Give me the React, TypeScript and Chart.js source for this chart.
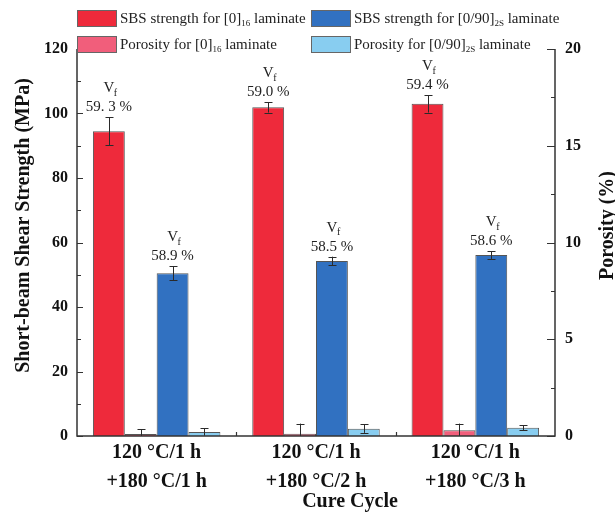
import { useEffect, useRef } from 'react';
import { Chart, registerables } from 'chart.js';

Chart.register(...registerables);

// ---------- data ----------
const categories: string[][] = [
  ['120 °C/1 h', '+180 °C/1 h'],
  ['120 °C/1 h', '+180 °C/2 h'],
  ['120 °C/1 h', '+180 °C/3 h'],
];
const sbs0 = [94.5, 101.9, 103.0];
const sbs0Err = [4.3, 1.6, 2.7];
const sbs090 = [50.5, 54.3, 56.1];
const sbs090Err = [2.2, 1.3, 1.2];
const por0 = [0.1, 0.12, 0.3];
const por0Err = [0.24, 0.52, 0.34];
const por090 = [0.21, 0.38, 0.43];
const por090Err = [0.2, 0.22, 0.13];
const vf0Labels = ['59. 3 %', '59.0 %', '59.4 %'];
const vf090Labels = ['58.9 %', '58.5 %', '58.6 %'];
const legendLabels = [
  'SBS strength for [0]{16} laminate',
  'SBS strength for [0/90]{2S} laminate',
  'Porosity for [0]{16} laminate',
  'Porosity for [0/90]{2S} laminate',
];
const leftTitle = 'Short-beam Shear Strength (MPa)';
const rightTitle = 'Porosity (%)';
const xTitle = 'Cure Cycle';

const RED = '#EE2A3B';
const PINK = '#F15E7B';
const BLUE = '#3171C1';
const LBLUE = '#88CDF0';
const FONT = "'Liberation Serif', 'Times New Roman', serif";

function drawRich(ctx: CanvasRenderingContext2D, text: string, x: number, y: number, size: number) {
  // parts in {} are subscripts
  const parts = text.split(/(\{[^}]*\})/).filter((p) => p.length);
  let cx = x;
  ctx.textAlign = 'left';
  ctx.textBaseline = 'middle';
  for (const p of parts) {
    if (p.startsWith('{')) {
      const s = p.slice(1, -1);
      ctx.font = `${Math.round(size * 0.62)}px ${FONT}`;
      ctx.fillText(s, cx, y + size * 0.32);
      cx += ctx.measureText(s).width;
    } else {
      ctx.font = `${size}px ${FONT}`;
      ctx.fillText(p, cx, y);
      cx += ctx.measureText(p).width;
    }
  }
}

const errs = [sbs0Err, por0Err, sbs090Err, por090Err];

const overlay = {
  id: 'overlay',
  afterDatasetsDraw(chart: any) {
    const { ctx, chartArea: a, scales } = chart;
    ctx.save();
    // error bars
    ctx.beginPath();
    ctx.rect(a.left, 0, a.right - a.left, a.bottom);
    ctx.clip();
    ctx.strokeStyle = '#2a2a2a';
    ctx.lineWidth = 1;
    chart.data.datasets.forEach((ds: any, i: number) => {
      const meta = chart.getDatasetMeta(i);
      const sc = scales[ds.yAxisID];
      meta.data.forEach((bar: any, j: number) => {
        const v = ds.data[j];
        const e = errs[i][j];
        const yt = sc.getPixelForValue(v + e);
        const yb = sc.getPixelForValue(v - e);
        const cx = Math.round(bar.x) + 0.5;
        ctx.beginPath();
        ctx.moveTo(cx, yt);
        ctx.lineTo(cx, yb);
        ctx.moveTo(cx - 4, Math.round(yt) + 0.5);
        ctx.lineTo(cx + 4, Math.round(yt) + 0.5);
        ctx.moveTo(cx - 4, Math.round(yb) + 0.5);
        ctx.lineTo(cx + 4, Math.round(yb) + 0.5);
        ctx.stroke();
      });
    });
    ctx.restore();

    // Vf labels
    ctx.save();
    ctx.fillStyle = '#222';
    [[0, vf0Labels], [2, vf090Labels]].forEach(([di, labels]: any) => {
      const ds = chart.data.datasets[di];
      const meta = chart.getDatasetMeta(di);
      const sc = scales[ds.yAxisID];
      meta.data.forEach((bar: any, j: number) => {
        const yt = sc.getPixelForValue(ds.data[j] + errs[di][j]);
        ctx.textAlign = 'center';
        ctx.textBaseline = 'middle';
        ctx.font = `15px ${FONT}`;
        ctx.fillText(labels[j], bar.x, yt - 10);
        ctx.fillText('V', bar.x, yt - 29);
        ctx.font = `10px ${FONT}`;
        ctx.textAlign = 'left';
        ctx.fillText('f', bar.x + 5, yt - 24);
      });
    });
    ctx.restore();
  },
  afterDraw(chart: any) {
    const { ctx, chartArea: a, scales } = chart;
    const y = scales.y;
    const y2 = scales.y2;
    const x = scales.x;
    ctx.save();
    ctx.strokeStyle = '#333';
    ctx.lineWidth = 1.5;
    ctx.beginPath();
    ctx.moveTo(a.left, a.top);
    ctx.lineTo(a.left, a.bottom);
    ctx.lineTo(a.right, a.bottom);
    ctx.lineTo(a.right, a.top);
    ctx.stroke();
    ctx.lineWidth = 1.2;
    // left ticks
    const lt = y.ticks.map((t: any) => t.value);
    ctx.beginPath();
    lt.forEach((v: number, k: number) => {
      const p = Math.round(y.getPixelForValue(v)) + 0.5;
      ctx.moveTo(a.left, p);
      ctx.lineTo(a.left + 6, p);
      if (k < lt.length - 1) {
        const m = Math.round(y.getPixelForValue((v + lt[k + 1]) / 2)) + 0.5;
        ctx.moveTo(a.left, m);
        ctx.lineTo(a.left + 4, m);
      }
    });
    const rt = y2.ticks.map((t: any) => t.value);
    rt.forEach((v: number, k: number) => {
      const p = Math.round(y2.getPixelForValue(v)) + 0.5;
      ctx.moveTo(a.right, p);
      ctx.lineTo(a.right - 8, p);
      if (k < rt.length - 1) {
        const m = Math.round(y2.getPixelForValue((v + rt[k + 1]) / 2)) + 0.5;
        ctx.moveTo(a.right, m);
        ctx.lineTo(a.right - 4, m);
      }
    });
    for (let i = 0; i < categories.length - 1; i++) {
      const p = Math.round(x.getPixelForValue(i + 0.5)) + 0.5;
      ctx.moveTo(p, a.bottom);
      ctx.lineTo(p, a.bottom - 4);
    }
    ctx.stroke();

    // axis titles
    ctx.fillStyle = '#111';
    ctx.font = `bold 20px ${FONT}`;
    ctx.textAlign = 'center';
    ctx.textBaseline = 'middle';
    const cy = (a.top + a.bottom) / 2 - 17;
    ctx.save();
    ctx.translate(24, cy);
    ctx.rotate(-Math.PI / 2);
    ctx.fillText(leftTitle, 0, 0);
    ctx.restore();
    ctx.save();
    ctx.translate(a.right + 53, cy);
    ctx.rotate(-Math.PI / 2);
    ctx.fillText(rightTitle, 0, 0);
    ctx.restore();
    ctx.fillText(xTitle, (a.left + a.right) / 2 + 34, a.bottom + 66);

    // legend
    const colors = [RED, BLUE, PINK, LBLUE];
    legendLabels.forEach((lab, i) => {
      const col = i % 2;
      const row = Math.floor(i / 2);
      const bx = a.left + col * 234;
      const by = 10 + row * 26;
      ctx.fillStyle = colors[i];
      ctx.fillRect(bx, by, 39, 16);
      ctx.strokeStyle = '#666';
      ctx.lineWidth = 1;
      ctx.strokeRect(bx + 0.5, by + 0.5, 39, 16);
      ctx.fillStyle = '#222';
      drawRich(ctx, lab, bx + 43, by + 9, 15);
    });
    ctx.restore();
  },
};

export default function App() {
  const ref = useRef<HTMLCanvasElement | null>(null);
  useEffect(() => {
    document.body.style.margin = '0';
    const canvas = ref.current!;
    const common = { borderColor: '#555', borderWidth: 1, categoryPercentage: 0.8, barPercentage: 1.0 };
    const chart = new Chart(canvas, {
      type: 'bar',
      data: {
        labels: categories,
        datasets: [
          { label: legendLabels[0], data: sbs0, backgroundColor: RED, yAxisID: 'y', ...common },
          { label: legendLabels[2], data: por0, backgroundColor: PINK, yAxisID: 'y2', ...common },
          { label: legendLabels[1], data: sbs090, backgroundColor: BLUE, yAxisID: 'y', ...common },
          { label: legendLabels[3], data: por090, backgroundColor: LBLUE, yAxisID: 'y2', ...common },
        ],
      },
      options: {
        responsive: false,
        animation: false,
        devicePixelRatio: 1,
        layout: { padding: { top: 49, left: 0, right: 0, bottom: 0 } },
        plugins: { legend: { display: false }, tooltip: { enabled: false } },
        scales: {
          x: {
            grid: { display: false, drawTicks: false },
            border: { display: false },
            ticks: { color: '#111', padding: 3, font: { family: FONT, size: 20, weight: 'bold', lineHeight: 1.42 } },
            afterFit: (s: any) => { s.height = 79; },
          },
          y: {
            position: 'left',
            min: 0,
            max: 120,
            grid: { display: false, drawTicks: false },
            border: { display: false },
            ticks: { stepSize: 20, color: '#111', padding: 9, font: { family: FONT, size: 16, weight: 'bold' } },
            afterFit: (s: any) => { s.width = 77; },
          },
          y2: {
            position: 'right',
            min: 0,
            max: 20,
            grid: { display: false, drawTicks: false },
            border: { display: false },
            ticks: { stepSize: 5, color: '#111', padding: 10, font: { family: FONT, size: 16, weight: 'bold' } },
            afterFit: (s: any) => { s.width = 60; },
          },
        },
      },
      plugins: [overlay],
    } as any);
    return () => chart.destroy();
  }, []);
  return (
    <div style={{ width: 615, height: 515 }}>
      <canvas ref={ref} width={615} height={515} />
    </div>
  );
}
